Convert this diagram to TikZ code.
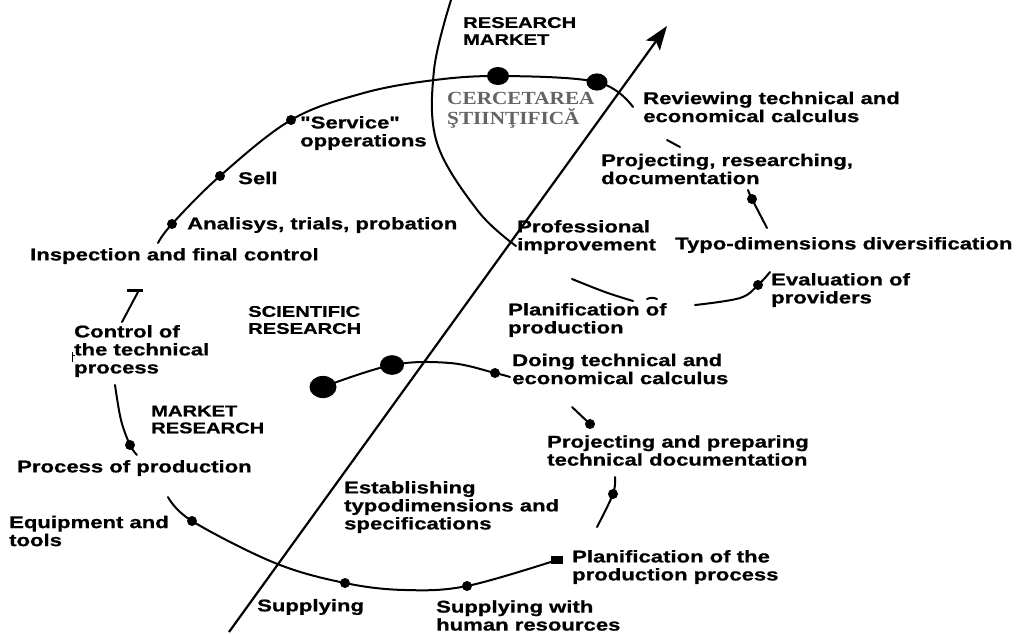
\documentclass[tikz,border=0pt]{standalone}
\usepackage{fontspec}
\newfontfamily\labfont{Liberation Sans}[FakeStretch=1.3,FakeBold=0.8]
\newfontfamily\serfont{Liberation Serif}[FakeStretch=1.15]
\usetikzlibrary{arrows.meta,shapes.geometric}
\definecolor{greytext}{RGB}{100,100,100}
\begin{document}
\begin{tikzpicture}[x=1pt,y=-1pt,
  lab/.style={anchor=west,inner sep=0pt,align=left,font=\labfont\bfseries\fontsize{17}{18}\selectfont},
  caplab/.style={anchor=west,inner sep=0pt,align=left,font=\labfont\bfseries\fontsize{15.5}{17}\selectfont},
  serlab/.style={anchor=west,inner sep=0pt,align=left,text=greytext,font=\serfont\bfseries\fontsize{18.5}{20}\selectfont},
  curve/.style={line width=2pt,line cap=round},
  dot/.style={circle,fill=black,inner sep=0pt,minimum size=10pt},
  bigdot/.style={ellipse,fill=black,inner sep=0pt,minimum width=#1,minimum height=0.82*#1},
  sqdot/.style={rectangle,fill=black,inner sep=0pt,minimum width=12pt,minimum height=8pt},
  mainarrow/.style={line width=2.2pt,-{Stealth[length=24pt,width=17pt,inset=5pt]}}]
\useasboundingbox (0,0) rectangle (1021,633);
% dot positions
\coordinate (an) at (172,224);
\coordinate (se) at (220,176);
\coordinate (sv) at (291,120);
\coordinate (ba) at (498,76);
\coordinate (bb) at (597,82);
\coordinate (pr) at (752,199);
\coordinate (ev) at (758,285);
\coordinate (pp) at (130,445);
\coordinate (eq) at (192,521);
\coordinate (su) at (345,583);
\coordinate (sh) at (467,586);
\coordinate (pf) at (557,560);
\coordinate (m1) at (323,387);
\coordinate (m2) at (392,365);
\coordinate (dt) at (495,373);
\coordinate (pj) at (590,424);
\coordinate (pt) at (613,494);
% free ends
\coordinate (arrS) at (229,632);
\coordinate (arrE) at (667,26);
% main arrow
\draw[mainarrow] (arrS) -- (arrE);
% top arc
\draw[curve] plot[smooth,tension=0.6] coordinates {(158,243) (an) (se) (sv) (360,94) (427,81) (ba) (bb) (633,107)};
% research market arc
\draw[curve] plot[smooth,tension=0.6] coordinates {(451,0) (434,70) (437,143) (478,211) (516,246)};
% small pieces on the right
\draw[curve] (667,140) -- (680,147);
\draw[curve] plot[smooth,tension=0.6] coordinates {(748,190) (pr) (767,228)};
\draw[curve] plot[smooth,tension=0.6] coordinates {(695,305) (740,298) (ev) (770,272)};
\draw[curve] plot[smooth,tension=0.6] coordinates {(572,279) (605,292) (633,301)};
\draw[curve] (647,299) .. controls (650,297.5) and (654,297.5) .. (657,299);
% left pieces
\draw[curve] (138,292) -- (122,322);
\draw[line width=3pt] (127,290) -- (143,290);
\draw[line width=1pt] (72,352) -- (72,362);
\draw[line width=1pt] (72,355) -- (75,355);
\draw[curve] plot[smooth,tension=0.6] coordinates {(115,385) (121,420) (pp) (137,455)};
% lower arc
\draw[curve] plot[smooth,tension=0.6] coordinates {(168,497) (eq) (275,563) (su) (405,590) (sh) (pf)};
% middle arc
\draw[curve] plot[smooth,tension=0.6] coordinates {(m1) (m2) (450,363) (dt) (510,377)};
\draw[curve] (572,407) -- (pj);
\draw[curve] plot[smooth,tension=0.6] coordinates {(615,477) (pt) (597,527)};
% dots
\node[dot] (anD) at (an) {};
\node[dot] (seD) at (se) {};
\node[dot] (svD) at (sv) {};
\node[bigdot=22pt] (baD) at (ba) {};
\node[bigdot=21pt] (bbD) at (bb) {};
\node[dot] (prD) at (pr) {};
\node[dot] (evD) at (ev) {};
\node[dot] (ppD) at (pp) {};
\node[dot] (eqD) at (eq) {};
\node[dot] (suD) at (su) {};
\node[dot] (shD) at (sh) {};
\node[sqdot] (pfD) at (pf) {};
\node[bigdot=27pt] (m1D) at (m1) {};
\node[bigdot=24pt] (m2D) at (m2) {};
\node[dot] (dtD) at (dt) {};
\node[dot] (pjD) at (pj) {};
\node[dot] (ptD) at (pt) {};
% texts
\node[caplab] (t1) at (463,31) {RESEARCH\\MARKET};
\node[serlab] (t2) at (447,110) {CERCETAREA\\ŞTIINŢIFICĂ};
\node[lab] (t3) at (643,107) {Reviewing technical and\\economical calculus};
\node[lab] (t4) at (300,133) {"Service"\\opperations};
\node[lab] (t5) at (238,178) {Sell};
\node[lab] (t6) at (187,225) {Analisys, trials, probation};
\node[lab] (t7) at (30,256) {Inspection and final control};
\node[lab] (t8) at (601,169) {Projecting, researching,\\documentation};
\node[lab] (t9) at (517,237) {Professional\\improvement};
\node[lab] (t10) at (675,245) {Typo-dimensions diversification};
\node[lab] (t11) at (771,290) {Evaluation of\\providers};
\node[lab] (t12) at (508,320) {Planification of\\production};
\node[caplab] (t13) at (248,320) {SCIENTIFIC\\RESEARCH};
\node[lab] (t14) at (74,351) {Control of\\the technical\\process};
\node[caplab] (t15) at (151,419.5) {MARKET\\RESEARCH};
\node[lab] (t16) at (512,369) {Doing technical and\\economical calculus};
\node[lab] (t17) at (17,468) {Process of production};
\node[lab] (t18) at (547,450.5) {Projecting and preparing\\technical documentation};
\node[lab] (t19) at (344,507) {Establishing\\typodimensions and\\specifications};
\node[lab] (t20) at (9,531) {Equipment and\\tools};
\node[lab] (t21) at (572,567) {Planification of the\\production process};
\node[lab] (t22) at (257,607) {Supplying};
\node[lab] (t23) at (436,615.5) {Supplying with\\human resources};
\end{tikzpicture}
\end{document}
